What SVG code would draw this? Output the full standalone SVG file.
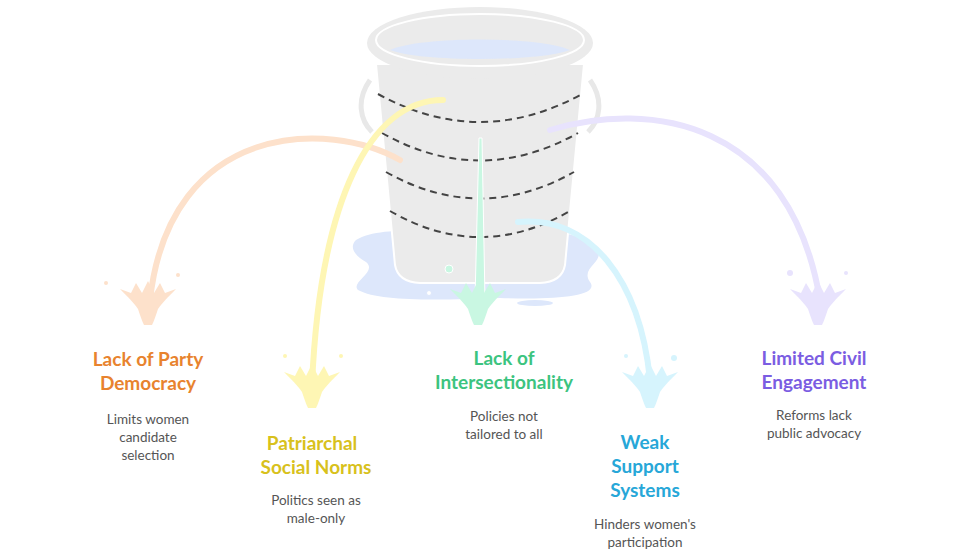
<svg xmlns="http://www.w3.org/2000/svg" width="960" height="556" viewBox="0 0 960 556">
<style>
.t{font-family:"Lato","Liberation Sans",sans-serif;font-weight:bold;font-size:19px;text-anchor:middle}
.d{font-family:"Lato","Liberation Sans",sans-serif;font-size:13.5px;fill:#555;text-anchor:middle}
.dash{fill:none;stroke:#444;stroke-width:2;stroke-dasharray:7 5}
.arc{fill:none;stroke-width:6;stroke-linecap:round}
</style>
<defs>
<path id="spl" d="M-28,-6 L-17,-2 L-12,-12 L-6,-2 L0,-14 L6,-2 L12,-12 L17,-2 L28,-6 C20,2 14,8 10,14 C8,20 6,26 4,30 L-4,30 C-6,26 -8,20 -10,14 C-14,8 -20,2 -28,-6 Z"/>
</defs>
<rect width="960" height="556" fill="#fff"/>
<g id="bucket">
<path d="M356,240 C380,226 430,232 480,230 C540,228 590,232 598,250 C604,262 580,268 590,282 C600,296 560,300 500,298 C440,300 380,302 358,290 C350,282 378,272 366,262 C352,254 350,246 356,240 Z" fill="#dde7fb"/>
<ellipse cx="535" cy="303" rx="18" ry="3" fill="#dde7fb"/>
<path d="M370,80 C356,100 360,120 372,132 M590,80 C604,100 600,120 588,132" fill="none" stroke="#e8e8e8" stroke-width="5"/>
<path d="M376,64 L395,265 Q398,282 420,283 L540,283 Q562,282 565,265 L584,64 Z" fill="#ebebeb" stroke="#fff" stroke-width="2"/>
<ellipse cx="480" cy="43" rx="113" ry="36" fill="#ebebeb"/>
<ellipse cx="480" cy="40" rx="104" ry="26" fill="#ebebeb" stroke="#fff" stroke-width="2"/>
<path d="M390,50 C420,36 540,36 570,50 C540,62 420,62 390,50 Z" fill="#dde7fb"/>
<path class="dash" d="M378,94 Q480,150 582,94"/>
<path class="dash" d="M382,133 Q480,188 578,133"/>
<path class="dash" d="M386,172 Q480,225 574,172"/>
<path class="dash" d="M390,211 Q480,263 570,211"/>
<circle cx="449" cy="269" r="4" fill="#c9f7e2" stroke="#fff" stroke-width="1"/>
<circle cx="429" cy="293" r="2.5" fill="#fff" stroke="#dde7fb"/>
</g>
<g id="connectors">
<path class="arc" stroke="#fde1cb" d="M400,160 C330,120 170,120 150,300"/>
<path class="arc" stroke="#fef6b4" d="M443,100 C370,100 320,200 312,385"/>
<path d="M479,138 L482,138 L485,300 L475,300 Z" fill="#c9f7e2" stroke="#fff" stroke-width="1"/>
<path class="arc" stroke="#d6f4fd" d="M518,222 C590,215 640,280 650,380"/>
<path class="arc" stroke="#e8e3fd" d="M550,130 C650,100 790,120 820,300"/>
</g>
<g id="n1">
<use href="#spl" x="148" y="295" fill="#fde1cb"/>
<circle cx="106" cy="283" r="2" fill="#fde1cb"/><circle cx="178" cy="275" r="2" fill="#fde1cb"/>
<text class="t" x="148" y="366" fill="#e8832e">Lack of Party</text>
<text class="t" x="148" y="390" fill="#e8832e">Democracy</text>
<text class="d" x="148" y="424">Limits women</text>
<text class="d" x="148" y="442">candidate</text>
<text class="d" x="148" y="460">selection</text>
</g>
<g id="n2">
<use href="#spl" x="312" y="378" fill="#fef6b4"/>
<circle cx="285" cy="356" r="2" fill="#fef6b4"/><circle cx="341" cy="356" r="2" fill="#fef6b4"/>
<text class="t" x="312" y="450" fill="#d8c11c">Patriarchal</text>
<text class="t" x="316" y="474" fill="#d8c11c">Social Norms</text>
<text class="d" x="316" y="505">Politics seen as</text>
<text class="d" x="316" y="523">male-only</text>
</g>
<g id="n3">
<use href="#spl" x="478" y="295" fill="#c9f7e2"/>
<text class="t" x="504" y="365" fill="#3cc47f">Lack of</text>
<text class="t" x="504" y="389" fill="#3cc47f">Intersectionality</text>
<text class="d" x="504" y="421">Policies not</text>
<text class="d" x="504" y="439">tailored to all</text>
</g>
<g id="n4">
<use href="#spl" x="650" y="378" fill="#d6f4fd"/>
<circle cx="626" cy="356" r="2" fill="#d6f4fd"/><circle cx="674" cy="358" r="3" fill="#d6f4fd"/>
<text class="t" x="645" y="449" fill="#27a7d8">Weak</text>
<text class="t" x="645" y="473" fill="#27a7d8">Support</text>
<text class="t" x="645" y="497" fill="#27a7d8">Systems</text>
<text class="d" x="645" y="529">Hinders women's</text>
<text class="d" x="645" y="547">participation</text>
</g>
<g id="n5">
<use href="#spl" x="818" y="295" fill="#e8e3fd"/>
<circle cx="790" cy="273" r="3" fill="#e8e3fd"/><circle cx="846" cy="273" r="2" fill="#e8e3fd"/>
<text class="t" x="814" y="365" fill="#7b5de2">Limited Civil</text>
<text class="t" x="814" y="389" fill="#7b5de2">Engagement</text>
<text class="d" x="814" y="420">Reforms lack</text>
<text class="d" x="814" y="438">public advocacy</text>
</g>
</svg>
